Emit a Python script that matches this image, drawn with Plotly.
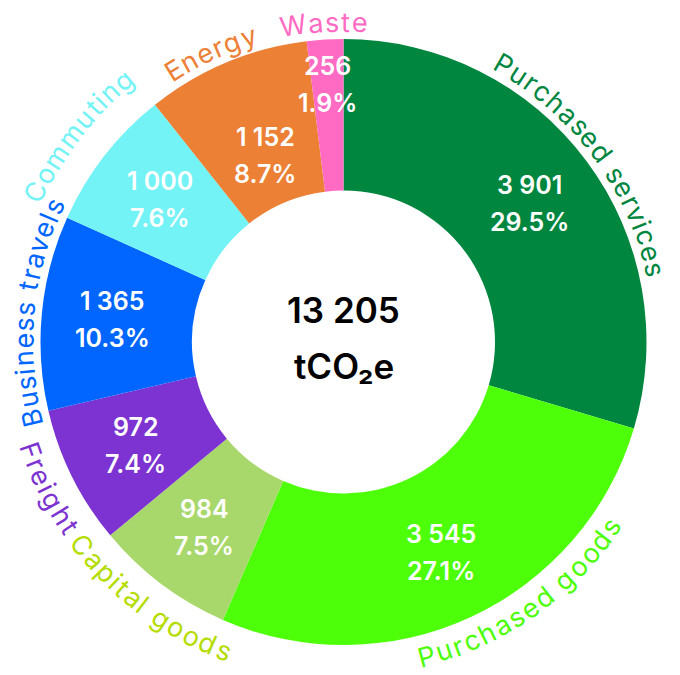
import math
import plotly.graph_objects as go

# Scope 3 style breakdown, tCO2e
categories = ["Purchased services", "Purchased goods", "Capital goods", "Freight",
              "Business travels", "Commuting", "Energy", "Waste"]
emissions = [3901, 3545, 984, 972, 1365, 1000, 1152, 256]
shares = [29.5, 27.1, 7.5, 7.4, 10.3, 7.6, 8.7, 1.9]
total_emissions = 13205

slice_colors = ["#00863F", "#4EFF0A", "#A8D86B", "#7C33D1",
                "#0066FF", "#73F3F6", "#EC8035", "#FF6BC3"]
label_colors = ["#00863F", "#4EFF0A", "#B4DC00", "#7C33D1",
                "#0066FF", "#73F3F6", "#EC8035", "#FF6BC3"]

W, H = 680, 675
CX, CY, R = 343.5, 342, 303  # pie centre / radius in pixels
HOLE = 0.5
FONT = "Inter, Roboto, sans-serif"

# rough advance widths (em) for the curved outer labels
CHAR_W = {
    " ": 0.281, "a": 0.561, "c": 0.556, "d": 0.611, "e": 0.578, "g": 0.611,
    "h": 0.593, "i": 0.240, "l": 0.240, "m": 0.884, "n": 0.593, "o": 0.594,
    "p": 0.611, "r": 0.378, "s": 0.535, "t": 0.365, "u": 0.593, "v": 0.541,
    "y": 0.541, "B": 0.657, "C": 0.723, "E": 0.594, "F": 0.575, "P": 0.640,
    "W": 0.964,
}
OUT_SIZE = 27
OUT_SPACING = 1.6
R_TOP, R_BOTTOM = 320, 331
# a few labels sit off their default spot in the original
outer_r = {"Commuting": 342, "Purchased goods": 325}
outer_shift = {"Purchased goods": -10, "Energy": -2}

# inner value labels sit mid-ring, a couple nudged like the original
inner_r = {"Energy": 202, "Waste": 258}
INNER_R_DEFAULT = 232


def to_paper(theta_deg, r):
    t = math.radians(theta_deg)
    px = CX + r * math.sin(t)
    py = CY - r * math.cos(t)
    return px / W, 1 - py / H


def fmt(v):
    return f"{v:,}".replace(",", " ")


fig = go.Figure()

fig.add_trace(go.Pie(
    labels=categories,
    values=emissions,
    sort=False,
    direction="clockwise",
    rotation=0,
    hole=HOLE,
    marker=dict(colors=slice_colors, line=dict(width=0)),
    textinfo="none",
    hoverinfo="label+value",
    showlegend=False,
    domain=dict(x=[(CX - R) / W, (CX + R) / W],
                y=[1 - (CY + R) / H, 1 - (CY - R) / H]),
))

total = sum(emissions)
start = 0.0
for name, val, pct, col in zip(categories, emissions, shares, label_colors):
    span = 360.0 * val / total
    mid = start + span / 2
    start += span

    # values inside the ring
    r_in = inner_r.get(name, INNER_R_DEFAULT)
    x, y = to_paper(mid, r_in)
    for line, dy in ((fmt(val), -18.5), (f"{pct}%", 18.5)):
        fig.add_annotation(
            x=x, y=y - dy / H, xref="paper", yref="paper",
            text=line, showarrow=False, xanchor="center", yanchor="middle",
            font=dict(family=FONT, size=25, color="white", weight=600),
        )

    # curved category name outside the ring
    bottom = 90 < mid < 270
    r_out = outer_r.get(name, R_BOTTOM if bottom else R_TOP)
    centre = mid + outer_shift.get(name, 0)
    adv = [CHAR_W.get(c, 0.56) * OUT_SIZE + OUT_SPACING for c in name]
    s = -(sum(adv) - OUT_SPACING) / 2
    for ch, a in zip(name, adv):
        w = a - OUT_SPACING
        off = s + w / 2
        s += a
        if ch == " ":
            continue
        d = math.degrees(off / r_out)
        theta = centre - d if bottom else centre + d
        ang = theta - 180 if bottom else theta
        ang = (ang + 180) % 360 - 180
        x, y = to_paper(theta, r_out)
        fig.add_annotation(
            x=x, y=y, xref="paper", yref="paper",
            text=ch, showarrow=False, textangle=ang,
            xanchor="center", yanchor="middle",
            font=dict(family=FONT, size=OUT_SIZE, color=col),
        )

# total in the hole
fig.add_annotation(
    x=CX / W, y=1 - (CY - 32.5) / H, xref="paper", yref="paper",
    text=fmt(total_emissions), showarrow=False,
    font=dict(family=FONT, size=35, color="black", weight=600),
)
fig.add_annotation(
    x=CX / W, y=1 - (CY + 23.5) / H, xref="paper", yref="paper",
    text="tCO₂e", showarrow=False,
    font=dict(family=FONT, size=35, color="black", weight=600),
)

fig.update_layout(
    width=W,
    height=H,
    margin=dict(l=0, r=0, t=0, b=0),
    paper_bgcolor="white",
    plot_bgcolor="white",
)

# body has a default 8px margin, which would push the chart off the window
fig.write_html("out.html", config={"displayModeBar": False},
               post_script="document.body.style.margin='0';")
